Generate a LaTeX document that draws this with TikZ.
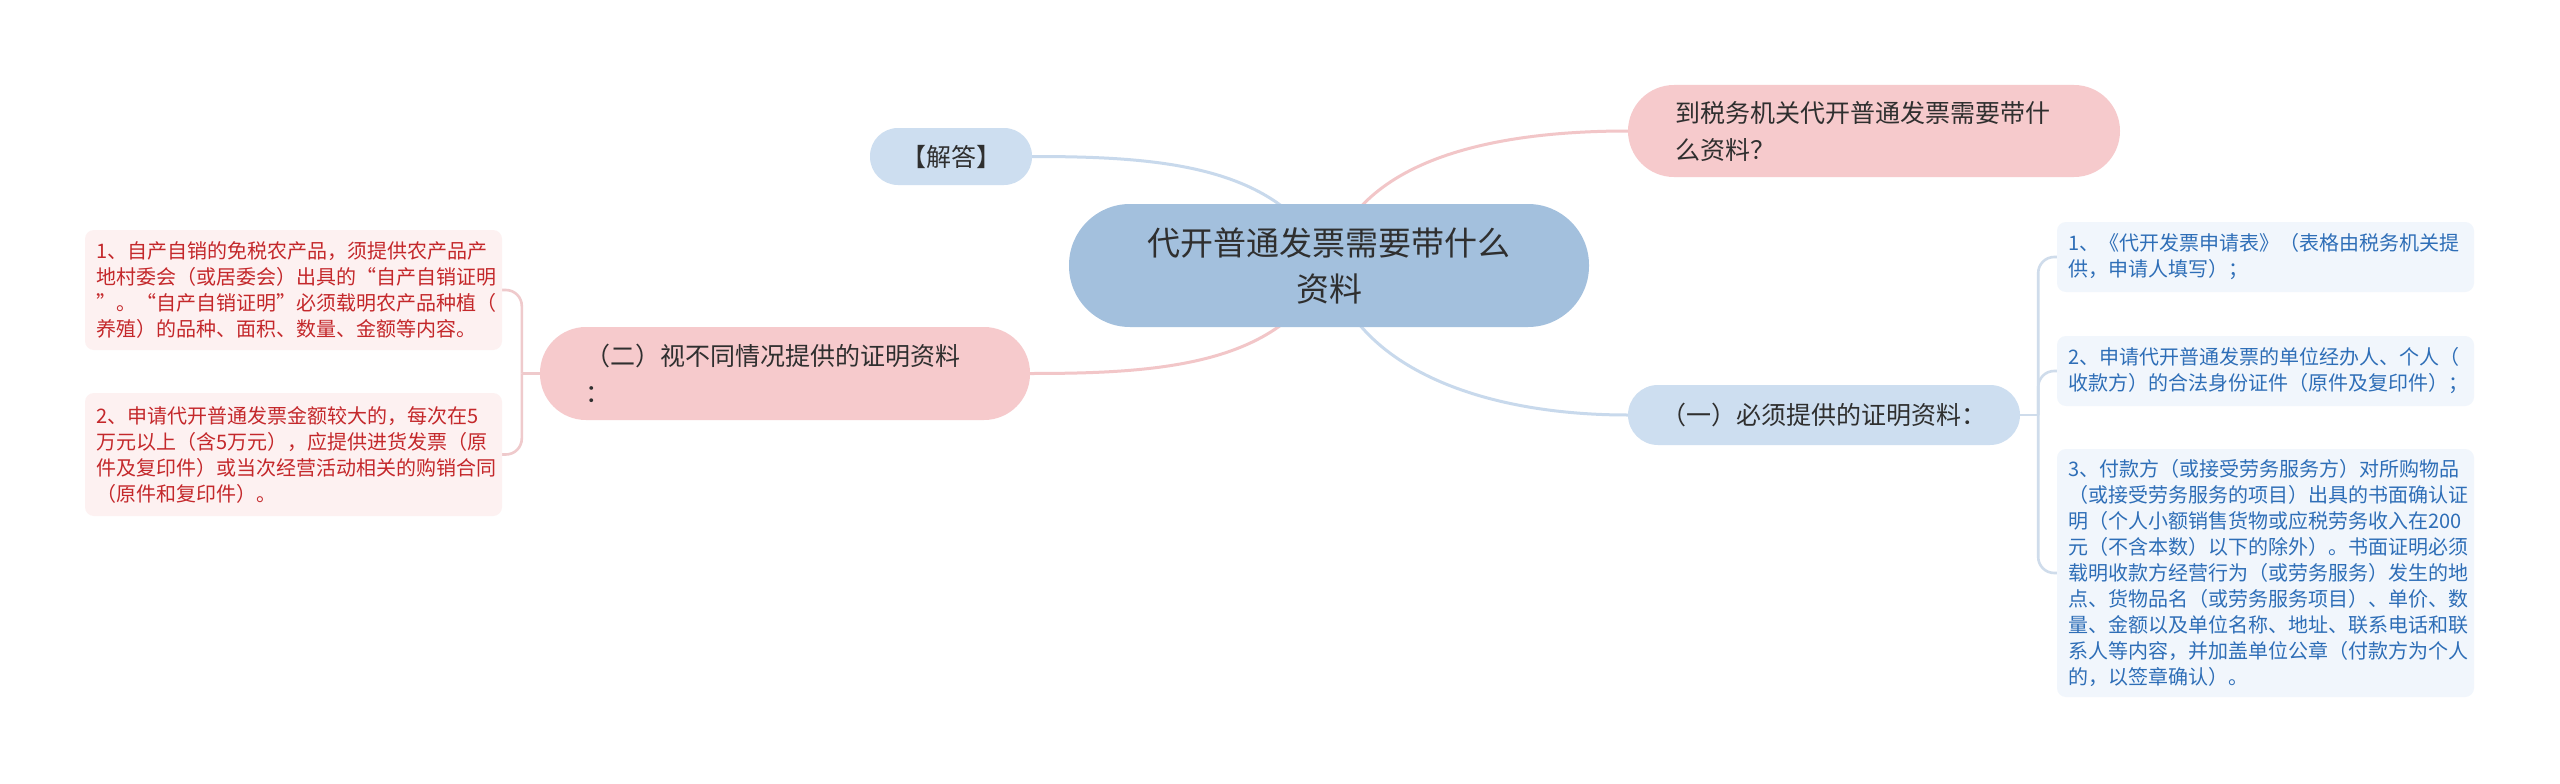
\documentclass[tikz,border=0pt]{standalone}
\usepackage{fontspec}
\setmainfont{Noto Sans CJK SC}
\usetikzlibrary{backgrounds}
\definecolor{cfill}{HTML}{A3C0DD}
\definecolor{bfill}{HTML}{CDDEF0}
\definecolor{pfill}{HTML}{F6CACC}
\definecolor{lpfill}{HTML}{FDF1F1}
\definecolor{lbfill}{HTML}{F1F6FC}
\definecolor{darktext}{HTML}{2F2F2F}
\definecolor{redtext}{HTML}{C4282B}
\definecolor{bluetext}{HTML}{2E6EB7}
\definecolor{blueline}{HTML}{C8D9EC}
\definecolor{pinkline}{HTML}{F2C6C8}
\definecolor{pinkbr}{HTML}{EFCACC}
\definecolor{bluebr}{HTML}{CFDCEB}
\tikzset{
  centerbox/.style={fill=cfill, rounded corners=61pt, minimum width=520pt, minimum height=123pt,
    align=center, text=darktext, font=\fontsize{33}{46}\selectfont, inner sep=0pt},
  bigbox/.style={rounded corners=#1, text=darktext, font=\fontsize{25}{37}\selectfont, inner ysep=0pt},
  leafbox/.style={rounded corners=9pt, inner xsep=11pt, inner ysep=0pt, text width=395pt,
    minimum height=#1, align=left, font=\fontsize{20}{26}\selectfont},
  lleaf/.style={leafbox=#1, fill=lpfill, text=redtext},
  rleaf/.style={leafbox=#1, fill=lbfill, text=bluetext},
  conn/.style={line width=3pt, line cap=round},
  brk/.style={line width=2.6pt, rounded corners=16pt}
}
\begin{document}
\begin{tikzpicture}[x=1pt,y=-1pt]
\useasboundingbox (0,0) rectangle (2560,784);
\node[centerbox] (c) at (1329,265.5) {代开普通发票需要带什么\\资料};
\node[bigbox=28pt, fill=bfill, minimum width=162pt, minimum height=57pt, inner xsep=0pt] (jd) at (951,156.5) {【解答】};
\node[bigbox=46pt, fill=pfill, minimum height=92pt, inner xsep=47pt, text width=398pt, align=left] (pt) at (1874,131) {到税务机关代开普通发票需要带什\\么资料？};
\node[bigbox=46pt, fill=pfill, minimum height=93pt, inner xsep=45pt, text width=400pt, align=left] (n2) at (785,373.5) {（二）视不同情况提供的证明资料\\：};
\node[bigbox=30pt, fill=bfill, minimum width=392pt, minimum height=60pt, inner xsep=0pt] (n1) at (1824,415) {（一）必须提供的证明资料：};
\node[lleaf=120pt] (l1) at (293.5,290) {1、自产自销的免税农产品，须提供农产品产\\地村委会（或居委会）出具的“自产自销证明\\”。“自产自销证明”必须载明农产品种植（\\养殖）的品种、面积、数量、金额等内容。};
\node[lleaf=123pt] (l2) at (293.5,454.5) {2、申请代开普通发票金额较大的，每次在5\\万元以上（含5万元），应提供进货发票（原\\件及复印件）或当次经营活动相关的购销合同\\（原件和复印件）。};
\node[rleaf=70pt] (r1) at (2265.5,257) {1、《代开发票申请表》（表格由税务机关提\\供，申请人填写）；};
\node[rleaf=70pt] (r2) at (2265.5,371) {2、申请代开普通发票的单位经办人、个人（\\收款方）的合法身份证件（原件及复印件）；};
\node[rleaf=248pt] (r3) at (2265.5,573) {3、付款方（或接受劳务服务方）对所购物品\\（或接受劳务服务的项目）出具的书面确认证\\明（个人小额销售货物或应税劳务收入在200\\元（不含本数）以下的除外）。书面证明必须\\载明收款方经营行为（或劳务服务）发生的地\\点、货物品名（或劳务服务项目）、单价、数\\量、金额以及单位名称、地址、联系电话和联\\系人等内容，并加盖单位公章（付款方为个人\\的，以签章确认）。};
\coordinate (lb) at ([xshift=-18pt]n2.west);
\coordinate (rb) at ([xshift=18pt]n1.east);
\begin{pgfonlayer}{background}
\fill[white] (0,0) rectangle (2560,784);
\draw[conn, blueline] (c.center) .. controls +(-45,-100) and +(130,0) .. (jd.east);
\draw[conn, pinkline] (c.center) .. controls +(25,-100) and +(-150,0) .. (pt.west);
\draw[conn, pinkline] (c.center) .. controls +(-45,100) and +(130,0) .. (n2.east);
\draw[conn, blueline] (c.center) .. controls +(25,100) and +(-150,0) .. (n1.west);
\draw[brk, pinkbr] (n2.west) -- (lb);
\draw[brk, pinkbr] (lb) |- (l1.east);
\draw[brk, pinkbr] (lb) |- (l2.east);
\draw[brk, bluebr] (n1.east) -- (rb);
\draw[brk, bluebr] (rb) |- (r1.west);
\draw[brk, bluebr] (rb) |- (r2.west);
\draw[brk, bluebr] (rb) |- (r3.west);
\end{pgfonlayer}
\end{tikzpicture}
\end{document}
